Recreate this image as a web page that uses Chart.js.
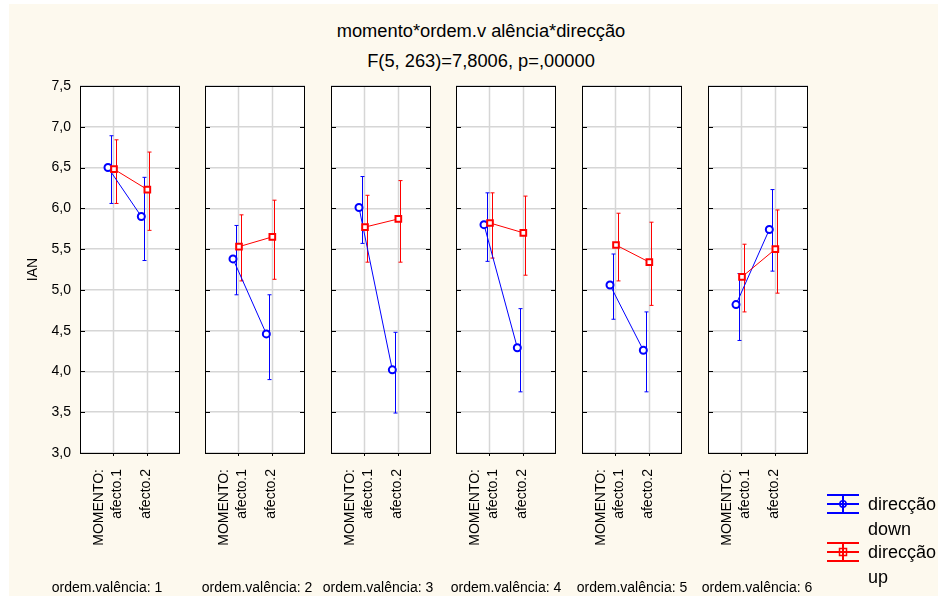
<!DOCTYPE html>
<html>
<head>
<meta charset="utf-8">
<script src="https://cdn.jsdelivr.net/npm/chart.js@4"></script>
<style>
  body { margin: 0; background: #fff; }
  #fundo { position: absolute; left: 9px; top: 4px; width: 929px; height: 592px; background: #fdf9ee; }
  #quadro { position: relative; width: 938px; height: 596px; overflow: hidden; font-family: 'Liberation Sans', Arial, sans-serif; }
  canvas { position: absolute; }
  .titulo { position: absolute; left: 281px; width: 400px; text-align: center; font-size: 18.3px; color: #000; white-space: pre; }
  .rotulo { position: absolute; width: 160px; text-align: center; font-size: 14px; color: #000; top: 579px; }
</style>
</head>
<body>
<div id="quadro">
  <div id="fundo"></div>
  <div class="titulo" style="top:20px">momento*ordem.v alência*direcção</div>
  <div class="titulo" style="top:50px">F(5, 263)=7,8006, p=,00000</div>
</div>
<script>
// dados

const categorias = ['afecto.1', 'afecto.2'];
const paineis = ['ordem.valência: 1', 'ordem.valência: 2', 'ordem.valência: 3',
                 'ordem.valência: 4', 'ordem.valência: 5', 'ordem.valência: 6'];
const series = ['direcção down', 'direcção up'];
const yTicks = [3.0, 3.5, 4.0, 4.5, 5.0, 5.5, 6.0, 6.5, 7.0, 7.5];

const downMedia = [[6.50, 5.90], [5.38, 4.46], [6.01, 4.02], [5.80, 4.29], [5.06, 4.26], [4.82, 5.74]];
const downInf   = [[6.06, 5.36], [4.94, 3.90], [5.57, 3.49], [5.35, 3.75], [4.64, 3.75], [4.38, 5.23]];
const downSup   = [[6.89, 6.38], [5.79, 4.94], [6.39, 4.48], [6.19, 4.77], [5.44, 4.73], [5.20, 6.23]];

const upMedia = [[6.48, 6.23], [5.53, 5.65], [5.77, 5.87], [5.82, 5.70], [5.55, 5.34], [5.16, 5.50]];
const upInf   = [[6.06, 5.73], [5.11, 5.13], [5.34, 5.34], [5.39, 5.18], [5.11, 4.81], [4.73, 4.96]];
const upSup   = [[6.84, 6.69], [5.92, 6.10], [6.16, 6.34], [6.19, 6.15], [5.94, 5.83], [5.56, 5.98]];

// posições dos painéis (px)
const esquerdas = [80, 205, 331, 456, 582, 708];
const centrosRotulo = [107, 257, 378, 506, 632, 757];

Chart.defaults.font.family = "'Liberation Sans', Arial, sans-serif";
Chart.defaults.color = '#000';

const AZUL = '#0000ff';
const VERMELHO = '#ff0000';

// barras de erro
const barrasErro = {
  id: 'barrasErro',
  beforeDatasetsDraw(chart) {
    const ctx = chart.ctx;
    const xs = chart.scales.x, ys = chart.scales.y;
    chart.data.datasets.forEach(ds => {
      ctx.save();
      ctx.strokeStyle = ds.borderColor;
      ctx.lineWidth = 1;
      ds.inf.forEach((lo, j) => {
        const x = Math.round(xs.getPixelForValue(j + 1 + ds.desvioBarra)) + 0.5;
        const y1 = ys.getPixelForValue(lo), y2 = ys.getPixelForValue(ds.sup[j]);
        ctx.beginPath();
        ctx.moveTo(x, y1); ctx.lineTo(x, y2);
        ctx.moveTo(x - 2, y1); ctx.lineTo(x + 2, y1);
        ctx.moveTo(x - 2, y2); ctx.lineTo(x + 2, y2);
        ctx.stroke();
      });
      ctx.restore();
    });
  }
};

// fundo branco, grelha vertical e moldura
const moldura = {
  id: 'moldura',
  beforeDraw(chart) {
    const {ctx, chartArea: a} = chart;
    ctx.save();
    ctx.fillStyle = '#fff';
    ctx.fillRect(a.left, a.top, a.right - a.left, a.bottom - a.top);
    ctx.restore();
  },
  beforeDatasetsDraw(chart) {
    const {ctx, chartArea: a} = chart;
    const xs = chart.scales.x;
    ctx.save();
    ctx.strokeStyle = '#d6d6d6';
    ctx.lineWidth = 1.5;
    [1, 2].forEach(v => {
      const x = Math.round(xs.getPixelForValue(v)) + 0.5;
      ctx.beginPath(); ctx.moveTo(x, a.top); ctx.lineTo(x, a.bottom); ctx.stroke();
    });
    ctx.restore();
  },
  afterDraw(chart) {
    const {ctx, chartArea: a} = chart;
    const xs = chart.scales.x, ys = chart.scales.y;
    ctx.save();
    ctx.strokeStyle = '#000';
    ctx.lineWidth = 1;
    ctx.strokeRect(a.left + 0.5, a.top + 0.5, a.right - a.left - 1, a.bottom - a.top);
    ctx.beginPath();
    yTicks.forEach(v => {
      const y = Math.round(ys.getPixelForValue(v)) + 0.5;
      ctx.moveTo(a.left, y); ctx.lineTo(a.left + 5, y);
      ctx.moveTo(a.right - 5, y); ctx.lineTo(a.right, y);
    });
    [1, 2].forEach(v => {
      const x = Math.round(xs.getPixelForValue(v)) + 0.5;
      ctx.moveTo(x, a.bottom); ctx.lineTo(x, a.bottom + 3);
    });
    ctx.stroke();
    ctx.restore();
  }
};

// legenda com símbolo de barra de erro
const legenda = {
  id: 'legenda',
  afterDraw(chart) {
    if (!chart.options.plugins.legenda.mostrar) return;
    const ctx = chart.ctx;
    const a = chart.chartArea;
    const x0 = a.right + 19, xt = a.right + 60;
    chart.data.datasets.forEach((ds, k) => {
      const yc = 428 + k * 48;
      ctx.save();
      ctx.strokeStyle = ds.borderColor;
      ctx.lineWidth = 2;
      ctx.beginPath();
      [-9, 0, 9].forEach(d => { ctx.moveTo(x0, yc + d); ctx.lineTo(x0 + 32, yc + d); });
      ctx.moveTo(x0 + 16, yc - 9); ctx.lineTo(x0 + 16, yc + 9);
      ctx.stroke();
      ctx.lineWidth = 1.5;
      ctx.beginPath();
      if (ds.pointStyle === 'rect') ctx.rect(x0 + 12.5, yc - 3.5, 7, 7);
      else ctx.arc(x0 + 16, yc, 3.2, 0, Math.PI * 2);
      ctx.stroke();
      ctx.fillStyle = '#000';
      ctx.font = "18px 'Liberation Sans', Arial, sans-serif";
      ctx.textBaseline = 'middle';
      ds.label.split(' ').forEach((t, n) => ctx.fillText(t, xt, yc + 1 + n * 25));
      ctx.restore();
    });
  }
};

const quadro = document.getElementById('quadro');

paineis.forEach((nome, i) => {
  const primeiro = i === 0, ultimo = i === paineis.length - 1;
  const padL = primeiro ? 80 : 6;
  const padR = ultimo ? 130 : 6;
  const canvas = document.createElement('canvas');
  canvas.width = padL + 100 + padR;
  canvas.height = 520;
  canvas.style.left = (esquerdas[i] - padL) + 'px';
  canvas.style.top = '76px';
  quadro.appendChild(canvas);

  const rot = document.createElement('div');
  rot.className = 'rotulo';
  rot.style.left = (centrosRotulo[i] - 80) + 'px';
  rot.textContent = nome;
  quadro.appendChild(rot);

  new Chart(canvas, {
    type: 'line',
    data: {
      datasets: [
        {
          label: series[0],
          data: categorias.map((c, j) => ({ x: j + 1 - 0.16, y: downMedia[i][j] })),
          inf: downInf[i], sup: downSup[i], desvioBarra: -0.085,
          borderColor: AZUL, borderWidth: 1,
          pointStyle: 'circle', pointRadius: 3.5, pointBorderWidth: 2,
          pointBackgroundColor: '#fff', pointBorderColor: AZUL,
          order: 1
        },
        {
          label: series[1],
          data: categorias.map((c, j) => ({ x: j + 1 + 0.02, y: upMedia[i][j] })),
          inf: upInf[i], sup: upSup[i], desvioBarra: 0.065,
          borderColor: VERMELHO, borderWidth: 1,
          pointStyle: 'rect', pointRadius: 4, pointBorderWidth: 2,
          pointBackgroundColor: '#fff', pointBorderColor: VERMELHO,
          order: 0
        }
      ]
    },
    options: {
      responsive: false,
      animation: false,
      devicePixelRatio: 1,
      layout: { padding: { top: 10, right: padR, left: 0, bottom: 0 } },
      plugins: {
        legend: { display: false },
        tooltip: { enabled: false },
        legenda: { mostrar: ultimo }
      },
      scales: {
        x: {
          type: 'linear', min: 0, max: 3,
          afterBuildTicks: s => { s.ticks = [{ value: 0.57 }, { value: 1.12 }, { value: 1.98 }]; },
          afterFit: s => { s.height = 143; s.paddingLeft = 0; s.paddingRight = 0; },
          grid: { display: false },
          border: { display: false },
          ticks: {
            autoSkip: false, minRotation: 90, maxRotation: 90, padding: 8,
            font: { size: 14 },
            callback: (v, idx) => ['MOMENTO:', categorias[0], categorias[1]][idx]
          }
        },
        y: {
          min: 3, max: 7.5,
          afterBuildTicks: s => { s.ticks = yTicks.map(v => ({ value: v })); },
          afterFit: s => { s.width = padL; s.paddingTop = 0; s.paddingBottom = 0; },
          grid: { color: '#d6d6d6', lineWidth: 1.5, drawTicks: false },
          border: { display: false },
          ticks: {
            display: primeiro, padding: 9,
            font: { size: 14 },
            callback: v => v.toFixed(1).replace('.', ',')
          },
          title: { display: primeiro, text: 'IAN', font: { size: 14 }, padding: { top: 25, bottom: 0 } }
        }
      }
    },
    plugins: [moldura, barrasErro, legenda]
  });
});
</script>
</body>
</html>
